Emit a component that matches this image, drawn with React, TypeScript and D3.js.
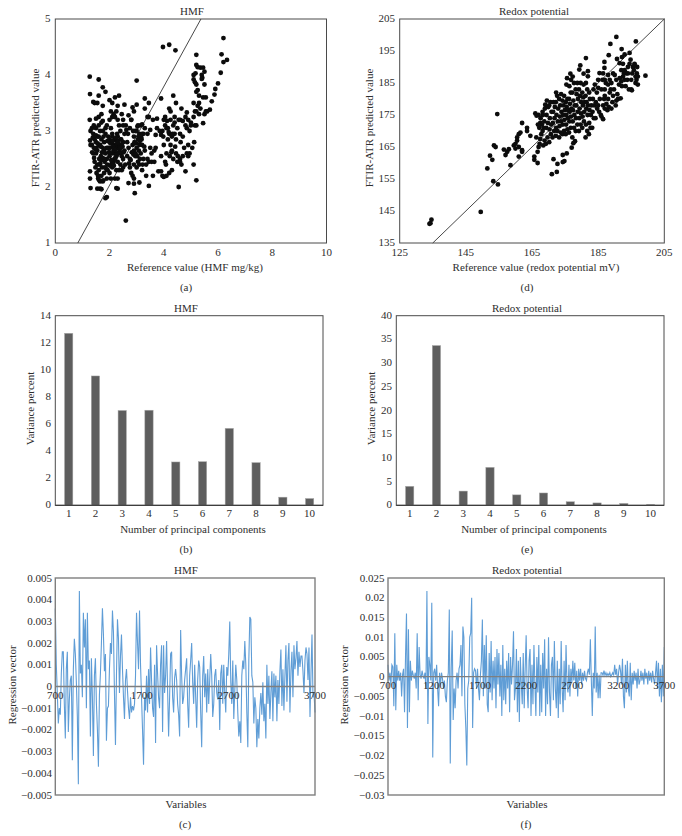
import React from "react";
import * as d3 from "d3";

const hmfRefX = [1.27,1.28,1.6,1.75,1.85,3.0,3.97,4.2,4.43,5.2,6.13,6.2,6.33,6.2,6.1,6.0,5.9,5.87,5.77,5.2,5.25,5.35,5.45,5.5,5.1,5.17,5.1,5.15,5.2,5.4,5.42,5.4,5.5,5.2,5.25,5.3,5.55,5.45,2.6,1.9,1.85,2.93,1.3,1.55,1.65,1.7,2.25,2.3,4.55,5.2,5.1,3.45,3.1,2.9,2.7,2.9,4.8,
1.28,1.28,1.27,1.3,1.28,1.3,1.35,1.4,1.35,1.4,1.45,1.42,1.42,1.5,1.5,1.5,1.48,1.52,1.55,1.58,1.6,1.62,1.6,1.55,1.65,1.6,1.7,1.75,1.7,1.75,1.68,1.72,1.7,1.65,1.75,1.8,1.82,1.85,1.8,1.85,1.85,1.6,1.55,1.4,1.45,1.6,1.7,1.75,1.5,1.75,1.9,
1.95,1.95,2.0,1.92,2.0,1.9,2.05,2.1,2.1,2.05,2.1,2.15,2.2,2.15,2.25,2.25,2.2,2.3,2.3,2.35,2.3,2.25,2.35,2.2,2.3,2.1,2.05,2.0,2.1,2.05,2.15,2.2,2.25,2.3,2.0,2.1,2.2,2.35,2.3,2.35,2.4,2.4,2.45,2.45,2.4,2.45,2.5,2.5,2.55,2.5,2.55,2.5,2.5,2.45,2.55,2.6,2.65,2.7,2.65,2.75,2.75,2.8,2.85,2.7,2.8,2.85,2.9,3.0,2.95,2.9,2.85,2.9,2.95,2.9,3.0,3.05,3.0,3.05,3.0,3.05,3.1,3.15,3.2,3.1,3.15,3.1,3.2,3.25,3.2,3.25,3.3,3.35,3.35,3.4,3.45,3.4,3.5,3.3,3.3,3.45,3.45,3.4,3.5,3.55,3.6,3.65,3.7,3.7,3.75,3.9,3.9,3.95,4.0,3.9,3.95,3.8,3.9,4.0,4.1,4.05,4.1,4.15,4.05,4.05,4.15,4.2,4.25,4.2,4.3,4.35,4.3,4.25,4.3,4.35,4.25,4.4,4.35,4.45,4.4,4.45,4.5,4.55,4.45,4.5,4.6,4.7,4.65,4.6,4.65,4.7,4.8,4.85,4.85,4.75,4.85,4.9,4.95,4.95,5.0,5.1,5.15,5.1,5.25,5.2,5.3,5.3,5.35,5.45,5.5,5.55,5.6,5.7,5.2,5.15,5.12,4.9,4.6,
1.45,1.55,1.65,1.8,1.9,2.0,2.15,2.28,2.38,2.18,2.08,1.92,1.78,1.62,1.5,1.38,1.58,1.72,1.88,2.02,2.12,2.22,2.32,2.42,2.48,2.58,2.72,2.82,2.92,3.02,3.12,3.22,3.08,2.98,2.88,2.78,2.68,3.18,3.28,2.62,2.52,2.75,4.0,4.1,4.2,4.4,4.6,4.7,4.8,4.9,5.0,5.05,3.85,3.6,3.55,3.75,3.65,3.2,3.3,
1.52,1.58,1.66,1.74,1.83,1.97,2.03,2.13,2.18,2.27,2.33,2.22,2.12,2.02,1.93,1.78,1.68,1.56,1.47,1.36,1.43,1.62,1.77,2.06,2.16,2.24,2.37,2.43,2.28,1.7,1.8,1.6,1.9,2.0,2.1,2.2,2.3,2.42,2.92,2.96,3.03,3.07,2.87,2.8,3.12,3.17,4.22,4.32,4.12,4.42,4.52,4.62,4.08,3.98,4.18,4.28];
const hmfPredicted = [3.97,3.66,3.92,3.78,3.7,3.9,4.5,4.54,4.44,4.36,4.37,4.66,4.27,4.23,4.04,3.85,3.75,3.65,3.53,4.18,4.14,4.13,4.13,4.06,4.0,4.03,3.92,3.87,3.83,4.0,3.95,3.93,3.83,3.7,3.73,3.63,3.6,3.6,1.4,1.82,1.8,1.89,1.98,1.97,1.97,1.96,1.98,1.97,2.0,2.12,2.4,2.02,2.08,2.06,2.07,2.15,2.28,
2.28,2.15,3.2,3.0,2.83,2.75,3.05,2.95,2.75,2.6,2.45,2.7,3.1,3.05,2.8,2.6,2.35,2.25,2.4,2.15,2.3,2.5,2.75,2.9,3.0,3.1,3.15,3.0,2.85,2.7,2.55,2.35,2.2,2.1,2.1,2.25,2.45,2.6,2.8,2.95,3.05,3.25,3.5,3.52,3.5,3.63,3.3,3.18,3.22,3.45,3.1,
2.9,2.7,2.55,2.4,2.25,2.15,2.15,2.35,2.6,2.8,2.9,2.75,2.6,2.45,2.55,2.75,2.85,2.9,2.7,2.6,2.45,2.3,2.3,2.15,2.15,2.95,3.05,3.2,3.25,3.35,3.3,3.25,3.35,3.2,3.55,3.5,3.6,3.63,3.45,3.1,3.0,2.85,2.75,2.55,2.4,2.3,2.35,2.5,2.65,2.8,2.95,3.1,3.2,3.3,3.47,3.1,2.8,2.7,2.55,2.5,2.35,2.25,2.2,3.28,3.2,3.42,3.35,3.47,3.0,2.9,2.75,2.65,2.55,2.4,2.35,2.45,2.7,2.85,3.0,3.1,2.95,3.1,3.12,2.75,2.6,2.4,2.3,2.5,2.75,2.95,2.65,2.4,2.2,2.5,2.45,2.95,3.02,3.4,3.58,3.5,3.25,3.25,2.7,2.6,2.2,2.65,2.7,2.93,3.22,3.58,2.93,3.0,2.75,2.55,2.2,2.28,2.28,2.18,2.2,2.45,2.6,2.85,3.1,3.25,3.05,3.4,3.35,2.25,2.3,2.5,2.65,2.75,2.9,3.1,3.2,3.25,3.63,3.5,2.95,2.85,3.05,3.2,2.6,2.45,2.5,2.55,2.4,3.2,3.4,3.18,3.25,3.33,3.05,2.7,2.6,2.75,2.6,3.0,3.15,3.25,3.35,3.5,3.45,3.35,3.5,3.3,3.4,3.14,3.3,3.35,3.35,3.38,3.1,3.1,2.8,2.55,2.45,
2.85,2.65,2.75,2.65,2.5,2.85,2.65,2.82,2.72,2.5,2.42,2.82,2.9,2.4,2.92,2.88,2.2,2.62,2.32,2.7,2.82,2.72,2.62,2.62,2.72,2.4,2.42,2.62,2.78,2.55,2.5,2.4,2.65,2.78,2.58,2.48,2.95,2.85,2.72,3.02,2.62,3.05,3.2,3.05,2.95,3.15,2.95,2.9,3.1,3.2,3.1,2.7,3.0,3.2,2.45,3.05,2.45,2.95,3.05,
2.7,2.2,2.42,2.52,2.35,2.62,2.78,2.72,2.68,2.58,2.78,2.52,2.42,2.38,2.3,2.62,2.72,2.78,2.68,2.62,2.52,2.12,2.12,2.48,2.38,2.88,2.68,2.85,2.95,2.48,2.5,2.9,2.7,2.62,2.82,2.66,2.8,2.7,2.8,2.6,3.08,2.9,3.0,3.2,2.82,2.88,2.55,2.95,3.18,2.72,2.55,2.8,2.4,2.9,2.98,2.62];
const hmfLineX = [0.83, 5.37];
const hmfLineY = [1, 5];

const redoxPoints: [number, number][] = [
[134,141],[134.3,141.2],[134.6,142.3],[149.5,144.7],[153.3,154.3],[154.7,153.3],[154.5,175.3],[151.5,158.3],[152.3,162.3],[153,161],[153.5,165.5],[154,165],[156.5,164.2],[157,162.5],[157.5,163.5],[158,164.3],[158.5,159.3],[159.5,165.5],[160,164.5],[160,166],[160.5,168],[160.5,167],[161,169],[161,165],[161,162],[161.5,169.5],[162,164],[162,163.5],[162,172.5],[163.5,171],[163.5,170],[164.5,168.5],[165.7,162],[165.7,161],[166.7,160],[166.7,163.5],[167,165],[167.5,167.5],[166,175.5],[167,175],[167.5,172.5],[168,172],[168.5,171],[169,178.2],[171.5,161.2],[171,156.5],[172.5,157.2],[172.7,159.7],[174.3,160.3],[174.8,160.6],[174.3,162.5],[175.5,163],[177,164.8],[177.5,166.2],[178,166.8],
[166.3,168],[166.8,172],[166.4,174.8],[167.3,166],[167.8,169],[167.2,171],[167.6,174],[168.2,176],[168.4,165.5],[168.8,167],[168.2,170],[168.7,173],[168.3,175],[168.9,177],
[169.2,166],[169.7,168],[169.3,171],[169.8,172.5],[169.4,175],[169.9,177.5],[169.5,179.5],[170.2,166.5],[170.7,169],[170.3,170.5],[170.8,172],[170.4,174],[170.9,176],[170.2,178],[170.6,179],
[171.2,168],[171.7,170],[171.3,172.5],[171.8,174],[171.4,176],[171.9,177.5],[171.5,179],[172.2,168.5],[172.7,170],[172.3,171],[172.8,173],[172.4,175],[172.9,177],[172.2,179],[172.6,181],[172.3,182],
[173.2,168],[173.7,169.5],[173.3,171.5],[173.8,173],[173.4,174.5],[173.9,176],[173.5,178],[173.2,180],[173.8,181.5],[174.2,169],[174.7,170],[174.3,172],[174.8,173.5],[174.4,175],[174.9,176.5],[174.5,178],[174.2,179.5],[174.7,181],
[175.2,169],[175.7,170.5],[175.3,172],[175.8,174],[175.4,175],[175.9,176.5],[175.5,177.5],[175.2,179],[175.7,180],[175.4,184.5],[176.2,169.5],[176.7,171],[176.3,173],[176.8,174.5],[176.4,176],[176.9,177],[176.5,178.5],[176.2,180],[176.7,182],[176.3,184],[176.8,186],
[177.2,168],[177.7,171],[177.3,173],[177.8,175],[177.4,176.5],[177.9,178],[177.5,179.5],[177.2,182],[177.7,185],[177.3,187],[178.2,170],[178.7,172],[178.3,174],[178.8,176],[178.4,178],[178.9,180],[178.5,181.5],[178.2,183],[178.7,185],
[179.2,170],[179.7,172],[179.3,174],[179.8,175.5],[179.4,177],[179.9,179],[179.5,181],[179.2,183],[179.7,185],[179.6,190.5],[179.3,189.2],[180.2,171],[180.7,173],[180.3,174.5],[180.8,176],[180.4,178],[180.9,179],[180.5,180.5],[180.2,182],[180.6,184.5],[180.6,187.9],
[181.2,168],[181.7,170],[181.3,172],[181.8,175],[181.4,177],[181.9,178],[181.5,179],[181.2,181],[181.7,183],[181.3,185],[181.3,192.8],[181.9,188.7],[181.9,187.1],
[182.2,169],[182.7,171],[182.3,172.5],[182.8,175],[182.4,176.5],[182.9,178],[182.5,180],[182.3,182],[183.2,171],[183.7,174],[183.3,176],[183.8,178],[183.4,180],[183.6,183],[184.2,174],[184.7,177],[184.3,179],[184.6,182],[176.6,187.9],[175.6,186.5],
[185,178],[185.3,176],[185.5,180],[185.8,175],[186,174.5],[186.5,173.7],[186.5,178],[186.8,180],[187,177],[187,181],[187.5,178.5],[187.8,176.5],[188,180],[188.2,177.5],[188.5,182],[188.8,183],[189,177],[189.3,179],[189.5,181],[189.8,183],[190.3,178],[190.5,179.5],[190.8,181.5],[191,180],[191.3,184.5],[191.5,186.5],[191.8,180.2],[192,185.5],[192.2,184],[192.5,187],[192.8,188],[193,186],[193.3,184],[193.5,188],[193.8,186],[194,190],[194.3,183],[194.5,191],[195,183],[195.2,182.7],[195.3,188],[195.5,190],[195.8,189],[196,191],[196.3,185],[196.3,187],[196.6,186],[196.7,188],[196.8,190],[197,187],[197,184.5],[186.5,188],[187,186],[187.3,185],[188,187.5],[188.5,186],[189,185],[189.5,188],[190,187.5],[190.5,186],[192,189],[193,189],[194,188],[195,186],
[185,186],[184,184.5],[185.4,188.1],[186.9,189.7],[186.9,191.6],[188.2,193.7],[188.7,197.2],[190.5,199.4],[196.4,198],[192.1,195.6],[190.7,192.5],[193,193.9],[194.5,194.4],[192.2,193.1],[194.8,192.3],[196,190.7],[199.3,187.3],[191.5,191.2],[192.5,191],[186.3,186],[186,183],[187,183],[188,184.5],[185,183.5]];
const redoxLine = [135, 205];

const pcLabels = [1,2,3,4,5,6,7,8,9,10];
const hmfVariance = [12.7,9.55,7,7.02,3.2,3.22,5.68,3.15,0.6,0.5];
const redoxVariance = [4,33.7,3,8,2.2,2.6,0.75,0.5,0.4,0.2];

// Regression coefficient, in units of 1e-4
const hmfVectorE4 = [36,10,-3,-17,-10,-13,6,16,16,-8,-24,8,16,-21,-6,3,5,-34,8,22,15,2,-14,-45,44,6,10,-5,34,18,31,-10,34,8,12,-23,13,-5,-32,5,13,-8,-20,-37,-4,6,20,36,24,7,15,-25,-10,-9,8,20,15,35,25,-3,-27,5,31,22,-3,14,24,8,-5,-15,3,8,-2,-10,-15,-5,-12,-9,-11,-8,5,34,20,8,35,10,-5,-20,-36,-5,-11,5,-12,8,-8,18,3,-10,-14,10,-26,19,6,-5,-10,10,19,-21,19,-3,5,21,-2,-23,-5,15,16,-5,-12,4,8,3,-8,-13,-23,26,5,-8,-5,3,8,13,-8,-19,5,12,20,2,-8,10,-5,-19,3,12,9,-12,-28,5,14,-5,6,-12,8,-8,3,15,5,-14,-8,5,8,-3,-6,3,-20,6,10,-8,10,-3,-12,9,5,15,30,2,-8,12,-15,-2,10,3,-12,-23,-16,-26,5,12,8,21,10,-12,-28,12,32,31,5,2,-17,-5,-10,-28,-15,-24,-10,-3,-13,2,-16,-8,-24,10,-8,5,-15,-3,7,-16,6,-5,5,-16,3,-8,7,17,-9,8,-11,5,19,-7,12,20,-12,7,16,-5,19,8,13,21,5,16,9,14,14,7,-3,12,18,15,3,18,-14,6,24,-5,-3,-12];
// Regression coefficient, in units of 1e-3
const redoxVectorE3 = [3,-1,1,-2,3,2.5,-7.5,11,-8.5,3,-1,1.5,-1,1,-5,0.5,2,-9,5,16,-13,12,-9,4,-1,1.5,0.3,-0.5,1,-3,11,-6,7.5,0.5,-0.5,1.5,0.2,-0.5,1,-3,21.7,-12,5,3,-1,18.7,-20.5,1,2,-1,3,-3,-7.5,1,-2,1,-0.5,-3,-1,-5,-6.5,-1,1,17,-22,2,11.7,-11,-3,-8,-1,1,-3,2,3,8,-5,12.7,10,-7,-13,-22.5,-3,-1,10,11,20,-13,1,2,1.5,-3,2,-3,-6,0.5,4,14.5,-5,8,-3,
10.5,-7,-9,6,-4,9,-6,4,-3,5,-8,7,-2,6,-5,3,-10,8,-6,2,-7,4,-3,6,-9,5,-2,3,11.5,-6,-3,7,-9,4,-11.5,5,-2,-7,6,-8,2,10.5,-3,-8,4,7,-10,3,-7,8,-2,-10,5,-4,8,-10,3,-9,6,-3,9.5,-10,2,-7,10,-4,-10,3,5,-6,9,-3,-8,4,-10.5,2,-7,9,-3,-9,4,-6,8,-2,-4,3,-5,2,
-1.5,4,-1,3.5,-3,1.5,-5,2,-1,2,-2,1,-1,1.5,-0.5,-1,1,2,0.5,9.5,-1,-10,1,-3,12.7,-4,1,-5.5,0.5,-5.5,1,1,0.3,1.5,0.3,1,0.2,0.8,0.3,1,0,0.5,1,0.3,3,0.5,2,-2,1,3,1.5,-2,4.5,-5,-8,3,-4,4,-3,-5,3.5,-6,1,-2,1.5,-1,1,-3,2,-2,-1,1.5,-1,1,-2,2,-0.5,1,-2,1.5,-1,1,-1.5,1.5,-0.5,-2,1,4,-3,3.5,-5,2,-6.5,3,-5,7.5];

const hmfXTicks = [0,2,4,6,8,10];
const hmfYTicks = [1,2,3,4,5];
const redoxXTicks = [125,145,165,185,205];
const redoxYTicks = [135,145,155,165,175,185,195,205];
const hmfVarTicks = [0,2,4,6,8,10,12,14];
const redoxVarTicks = [0,5,10,15,20,25,30,35,40];
const hmfVecTicks = [0.005,0.004,0.003,0.002,0.001,0,-0.001,-0.002,-0.003,-0.004,-0.005];
const redoxVecTicks = [0.025,0.02,0.015,0.01,0.005,0,-0.005,-0.01,-0.015,-0.02,-0.025,-0.03];
const hmfVarLabels = [700,1700,2700,3700];
const redoxVarLabels = [700,1200,1700,2200,2700,3200,3700];

const FONT = "'Liberation Serif', serif";
const INK = "#2e2e2e";
const FS = 11;

type Box = { l: number; r: number; t: number; b: number };
const fmtTick = (v: number) => (v < 0 ? "\u2212" + String(-v) : String(v));

function T(p: { x: number; y: number; a?: string; rot?: boolean; children: React.ReactNode; fs?: number }) {
  return (
    <text x={p.x} y={p.y} textAnchor={(p.a as any) ?? "middle"} dominantBaseline="central" fontFamily={FONT}
      fontSize={p.fs ?? FS} fill={INK} transform={p.rot ? `rotate(-90 ${p.x} ${p.y})` : undefined}>{p.children}</text>
  );
}

function Frame(p: { box: Box; stroke: string; sw: number }) {
  const { l, r, t, b } = p.box;
  return <rect x={l} y={t} width={r - l} height={b - t} fill="none" stroke={p.stroke} strokeWidth={p.sw} />;
}

function Scatter(p: {
  box: Box; xd: number[]; yd: number[]; pts: [number, number][]; lx: number[]; ly: number[];
  xt: number[]; yt: number[]; title: string; xl: string; yl: string; tag: string; yLabelX: number; yTickX: number; cx: number; lblCx: number;
}) {
  const { box } = p;
  const x = d3.scaleLinear().domain(p.xd).range([box.l, box.r]);
  const y = d3.scaleLinear().domain(p.yd).range([box.b, box.t]);
  const line = d3.line<number>().x((_, i) => x(p.lx[i])).y((_, i) => y(p.ly[i]));
  return (
    <g>
      <Frame box={box} stroke="#4a4a4a" sw={1} />
      <path d={line(p.lx) ?? ""} fill="none" stroke="#333" strokeWidth={0.9} />
      {p.pts.map((d, i) => <circle key={i} cx={x(d[0])} cy={y(d[1])} r={2.4} fill="#0c0c0c" />)}
      {p.xt.map(v => <T key={v} x={x(v)} y={box.b + 9}>{v}</T>)}
      {p.yt.map(v => <T key={v} x={p.yTickX} y={y(v) - 1} a="end">{v}</T>)}
      <T x={p.cx} y={10.5}>{p.title}</T>
      <T x={p.lblCx} y={267}>{p.xl}</T>
      <T x={p.yLabelX} y={(box.t + box.b) / 2 - 3} rot>{p.yl}</T>
      <T x={p.lblCx - 9} y={286.5}>{p.tag}</T>
    </g>
  );
}

function Bars(p: { box: Box; vals: number[]; ymax: number; yt: number[]; title: string; tag: string; yLabelX: number; tickX: number; cx: number }) {
  const { box } = p;
  const x = d3.scaleBand<number>().domain(pcLabels).range([box.l, box.r]).paddingInner(0.69).paddingOuter(0.345);
  const y = d3.scaleLinear().domain([0, p.ymax]).range([box.b, box.t]);
  return (
    <g>
      <Frame box={box} stroke="#4a4a4a" sw={1} />
      {p.vals.map((v, i) => (
        <rect key={i} x={x(pcLabels[i])!} y={y(v)} width={x.bandwidth()} height={box.b - y(v)} fill="#5e5e5e" stroke="#a8a8a8" strokeWidth={0.5} />
      ))}
      <line x1={box.l} x2={box.r} y1={box.b} y2={box.b} stroke="#333" strokeWidth={1} />
      {pcLabels.map(v => <T key={v} x={x(v)! + x.bandwidth() / 2} y={box.b + 8}>{v}</T>)}
      {p.yt.map(v => <T key={v} x={p.tickX} y={y(v) - 1} a="end">{v}</T>)}
      <T x={p.cx} y={308}>{p.title}</T>
      <T x={p.cx + 7} y={529}>Number of principal components</T>
      <T x={p.yLabelX} y={(box.t + box.b) / 2 - 2} rot>Variance percent</T>
      <T x={p.cx} y={549}>{p.tag}</T>
    </g>
  );
}

function Vector(p: {
  box: Box; vals: number[]; unit: number; yd: number[]; yt: number[]; xt: number[]; title: string; tag: string;
  yLabelX: number; tickX: number; cx: number; xlCx: number;
}) {
  const { box } = p;
  const n = p.vals.length;
  const x = d3.scaleLinear().domain([700, 3700]).range([box.l, box.r]);
  const y = d3.scaleLinear().domain(p.yd).range([box.b, box.t]);
  const line = d3.line<number>().x((_, i) => x(700 + (i * 3000) / (n - 1))).y(v => y(v * p.unit));
  return (
    <g>
      <path d={line(p.vals) ?? ""} fill="none" stroke="#5f9dd6" strokeWidth={1.1} />
      <line x1={box.l} x2={box.r} y1={y(0)} y2={y(0)} stroke="#7f7f7f" strokeWidth={1.3} />
      <Frame box={box} stroke="#7f7f7f" sw={1.4} />
      {p.xt.map(v => <T key={v} x={x(v)} y={y(0) + 8}>{v}</T>)}
      {p.yt.map(v => <T key={v} x={p.tickX} y={y(v) - 0.5} a="end">{fmtTick(v)}</T>)}
      <T x={p.cx} y={570}>{p.title}</T>
      <T x={p.xlCx} y={804}>Variables</T>
      <T x={p.yLabelX} y={(box.t + box.b) / 2 - 1.5} rot>Regression vector</T>
      <T x={p.xlCx - 1} y={824}>{p.tag}</T>
    </g>
  );
}

const hmfPoints = hmfRefX.map((v, i) => [v, hmfPredicted[i]] as [number, number]);

export default function App() {
  return (
    <svg width={682} height={836} style={{ position: "absolute", left: 0, top: 0, background: "#fff" }}>
      <Scatter box={{ l: 55.3, r: 326.5, t: 19, b: 243 }} xd={[0, 10]} yd={[1, 5]} pts={hmfPoints} lx={hmfLineX} ly={hmfLineY}
        xt={hmfXTicks} yt={hmfYTicks} title="HMF" xl="Reference value (HMF mg/kg)" yl="FTIR-ATR predicted value" tag="(a)" yLabelX={35} yTickX={50.5} cx={192} lblCx={195} />
      <Scatter box={{ l: 399.7, r: 664.3, t: 19, b: 243 }} xd={[125, 205]} yd={[135, 205]} pts={redoxPoints} lx={redoxLine} ly={redoxLine}
        xt={redoxXTicks} yt={redoxYTicks} title="Redox potential" xl="Reference value (redox potential mV)" yl="FTIR-ATR predicted value" tag="(d)" yLabelX={369} yTickX={395} cx={534} lblCx={536} />
      <Bars box={{ l: 55.3, r: 323, t: 315.7, b: 505.3 }} vals={hmfVariance} ymax={14} yt={hmfVarTicks} title="HMF" tag="(b)" yLabelX={30} tickX={51} cx={186} />
      <Bars box={{ l: 396.3, r: 664, t: 315.7, b: 505.3 }} vals={redoxVariance} ymax={40} yt={redoxVarTicks} title="Redox potential" tag="(e)" yLabelX={371} tickX={392} cx={527} />
      <Vector box={{ l: 55.3, r: 315, t: 578, b: 795 }} vals={hmfVectorE4} unit={1e-4} yd={[-0.005, 0.005]} yt={hmfVecTicks} xt={hmfVarLabels} title="HMF" tag="(c)" yLabelX={12} tickX={52} cx={186} xlCx={186} />
      <Vector box={{ l: 388, r: 664.3, t: 578, b: 795 }} vals={redoxVectorE3} unit={1e-3} yd={[-0.03, 0.025]} yt={redoxVecTicks} xt={redoxVarLabels} title="Redox potential" tag="(f)" yLabelX={344} tickX={384.5} cx={527} xlCx={527} />
    </svg>
  );
}
